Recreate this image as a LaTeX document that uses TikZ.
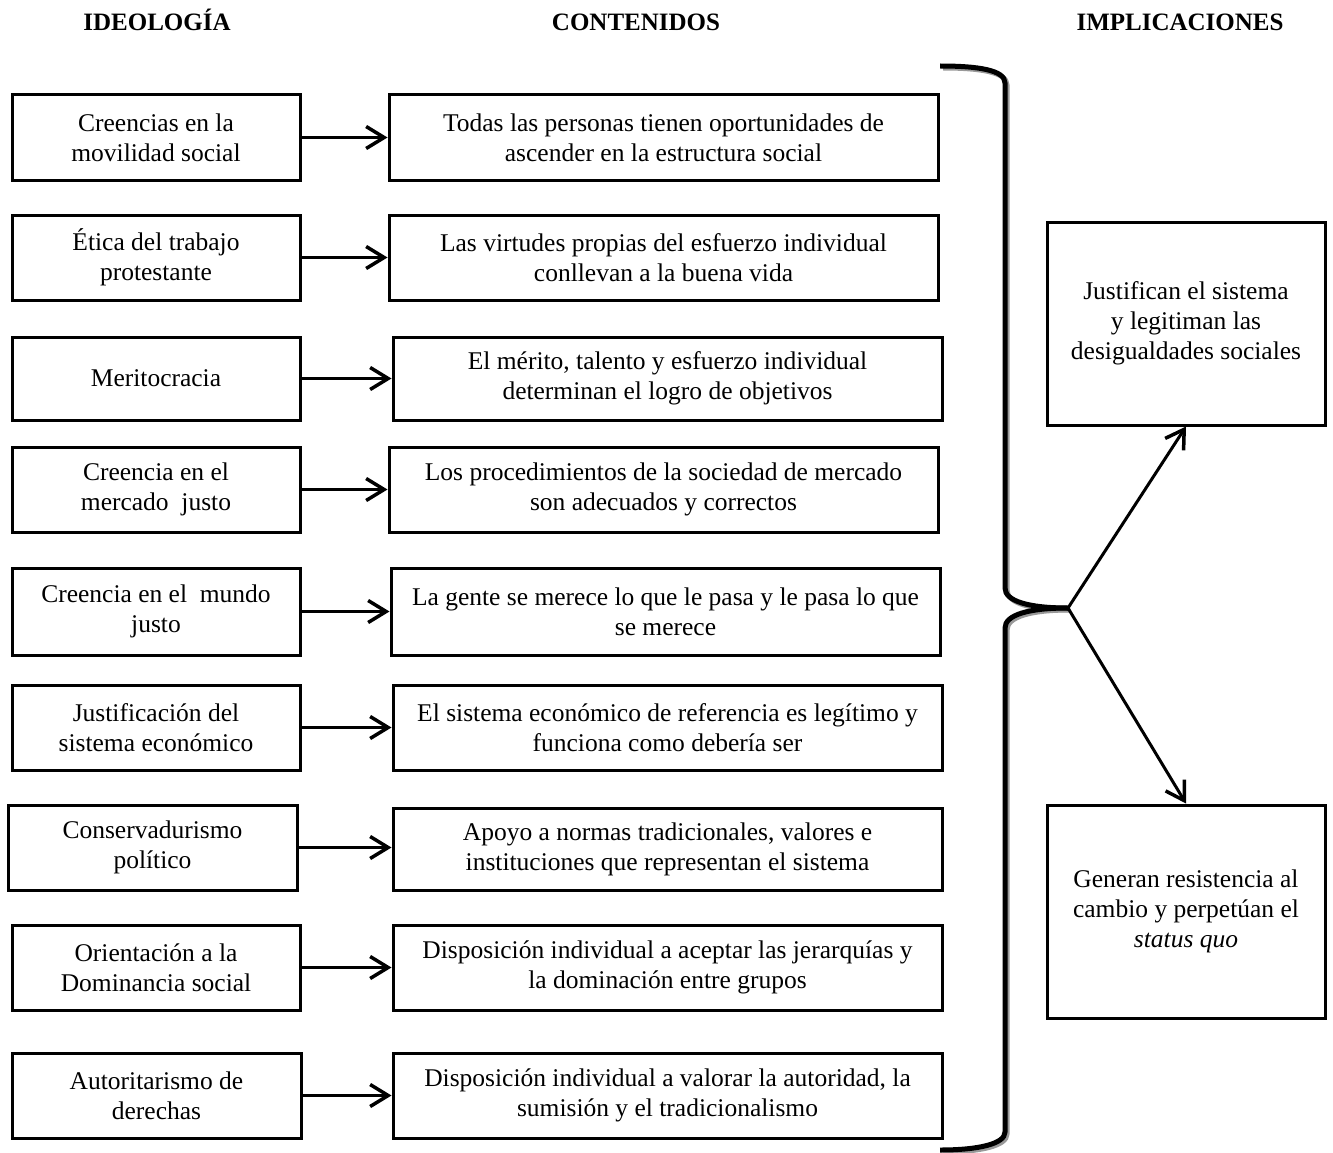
\documentclass[tikz,border=0pt]{standalone}
\usepackage{fontspec}
\setmainfont{Liberation Serif}
\usetikzlibrary{arrows.meta}
\tikzset{
  box/.style={draw=black, line width=3pt, align=center, inner sep=0pt, font=\fontsize{25.5}{30}\selectfont},
  hdr/.style={font=\fontsize{25}{28}\selectfont\bfseries, inner sep=0pt, anchor=base},
  conn/.style={line width=3pt, -{Straight Barb[length=18pt,width=22pt,line width=3.5pt]}},
  bracel/.style={line width=5pt, line cap=butt},
  braceshadow/.style={line width=5pt, draw=black!40},
}
\begin{document}
\begin{tikzpicture}[x=1pt,y=-1pt]
\useasboundingbox (0,0) rectangle (1333,1153);
% headers
\node[hdr] (h1) at (157,31) {IDEOLOGÍA};
\node[hdr] (h2) at (636,31) {CONTENIDOS};
\node[hdr] (h3) at (1180,31) {IMPLICACIONES};
% left boxes
\node[box, minimum width=288pt, minimum height=85pt] (l1) at (156,137.5) {Creencias en la\\movilidad social};
\node[box, minimum width=288pt, minimum height=85pt] (l2) at (156,257.5) {Ética del trabajo\\protestante};
\node[box, minimum width=288pt, minimum height=83pt] (l3) at (156,378.5) {Meritocracia};
\node[box, minimum width=288pt, minimum height=85pt] (l4) at (156,489.5) {Creencia en el\\mercado\ \ justo};
\node[box, minimum width=288pt, minimum height=87pt] (l5) at (156,611.5) {Creencia en el\ \ mundo\\justo};
\node[box, minimum width=288pt, minimum height=85pt] (l6) at (156,727.5) {Justificación del\\sistema económico};
\node[box, minimum width=289pt, minimum height=85pt] (l7) at (152.5,847.5) {Conservadurismo\\político};
\node[box, minimum width=288pt, minimum height=85pt] (l8) at (156,967.5) {Orientación a la\\Dominancia social};
\node[box, minimum width=289pt, minimum height=85pt] (l9) at (156.5,1095.5) {Autoritarismo de\\derechas};
% middle boxes
\node[box, minimum width=549pt, minimum height=85pt] (m1) at (663.5,137.5) {Todas las personas tienen oportunidades de\\ascender en la estructura social};
\node[box, minimum width=549pt, minimum height=85pt] (m2) at (663.5,257.5) {Las virtudes propias del esfuerzo individual\\conllevan a la buena vida};
\node[box, minimum width=549pt, minimum height=83pt] (m3) at (667.5,378.5) {El mérito, talento y esfuerzo individual\\determinan el logro de objetivos};
\node[box, minimum width=549pt, minimum height=85pt] (m4) at (663.5,489.5) {Los procedimientos de la sociedad de mercado\\son adecuados y correctos};
\node[box, minimum width=549pt, minimum height=87pt] (m5) at (665.5,611.5) {La gente se merece lo que le pasa y le pasa lo que\\se merece};
\node[box, minimum width=549pt, minimum height=85pt] (m6) at (667.5,727.5) {El sistema económico de referencia es legítimo y\\funciona como debería ser};
\node[box, minimum width=549pt, minimum height=82pt] (m7) at (667.5,849) {Apoyo a normas tradicionales, valores e\\instituciones que representan el sistema};
\node[box, minimum width=549pt, minimum height=85pt] (m8) at (667.5,967.5) {Disposición individual a aceptar las jerarquías y\\la dominación entre grupos};
\node[box, minimum width=549pt, minimum height=85pt] (m9) at (667.5,1095.5) {Disposición individual a valorar la autoridad, la\\sumisión y el tradicionalismo};
% arrows
\foreach \i in {1,...,9} {
  \draw[conn] (l\i.east) -- (m\i.west |- l\i.east);
}
% right boxes
\node[box, minimum width=278pt, minimum height=203pt] (r1) at (1186,323.5) {Justifican el sistema\\y legitiman las\\desigualdades sociales};
\node[box, minimum width=278pt, minimum height=213pt] (r2) at (1186,911.5) {Generan resistencia al\\cambio y perpetúan el\\\textit{status quo}};
% brace
\coordinate (cusp) at (1068,608);
\draw[braceshadow] (943,68) .. controls (980,68) and (1007,72) .. (1007,85) -- (1007,590) .. controls (1007,603) and (1030,610) .. (1070,610);
\draw[braceshadow] (1070,610) .. controls (1030,610) and (1007,617) .. (1007,630) -- (1007,1134) .. controls (1007,1146) and (980,1152) .. (943,1152);
\draw[bracel] (940,66) .. controls (978,66) and (1005,70) .. (1005,83) -- (1005,588) .. controls (1005,601) and (1028,608) .. (cusp);
\draw[bracel] (cusp) .. controls (1028,608) and (1005,615) .. (1005,628) -- (1005,1132) .. controls (1005,1144) and (978,1150) .. (940,1150);
% implication arrows
\draw[conn] (cusp) -- (r1.south);
\draw[conn] (cusp) -- (r2.north);
\end{tikzpicture}
\end{document}
